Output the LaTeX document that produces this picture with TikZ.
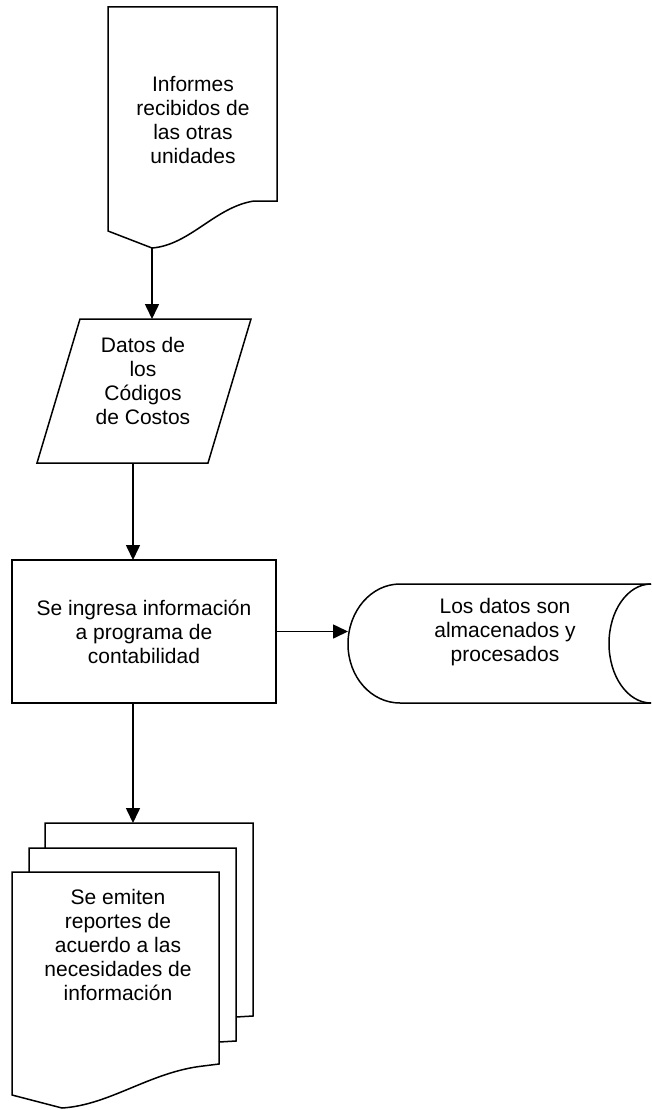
\documentclass[tikz,border=0pt]{standalone}
\usepackage{fontspec}
\setmainfont{Liberation Sans}
\usetikzlibrary{arrows.meta,calc}
\begin{document}
\begin{tikzpicture}[x=1pt,y=-1pt,
  frame/.style={draw=none,rectangle,inner sep=0pt,outer sep=0pt},
  outline/.style={draw=black,line width=1.5pt,line join=miter},
  txt/.style={align=center,font=\fontsize{21}{24}\selectfont,inner sep=0pt},
  arr/.style={draw=black,line width=1.6pt,-{Triangle[length=15pt,width=14pt]}}]
\useasboundingbox (0,0) rectangle (651,1110);

% --- document: Informes recibidos
\node[frame,minimum width=169pt,minimum height=241pt] (doc) at (192.5,127.5) {};
\draw[outline] (doc.north west) -- (doc.north east) -- (277,201) -- (254,201)
  .. controls (215,207) and (190,245) .. (152,248) coordinate (doctip)
  -- (108,231) -- cycle;
\node[txt] (doctext) at (193,120) {Informes\\recibidos de\\las otras\\unidades};

% --- parallelogram: Datos de los Codigos de Costos
\node[frame,minimum width=214pt,minimum height=144pt] (para) at (144,391) {};
\draw[outline] (80,319) -- (251,319) -- (208,463) -- (37,463) -- cycle;
\node[txt] (paratext) at (143,381) {Datos de\\los\\Códigos\\de Costos};

% --- process rectangle
\node[frame,minimum width=264pt,minimum height=143pt] (rect) at (144,631.5) {};
\draw[outline] (rect.north west) rectangle (rect.south east);
\node[txt] (recttext) at (144,632) {Se ingresa información\\a programa de\\contabilidad};

% --- stored data
\node[frame,minimum width=303pt,minimum height=119pt] (store) at (499.5,643.5) {};
\draw[outline] (651,584) -- (400,584)
  .. controls (371.3,584) and (348,610.9) .. (348,644)
  .. controls (348,677.1) and (371.3,703) .. (400,703) -- (651,703);
\draw[outline] (651,584) .. controls (627.8,584) and (609,610.6) .. (609,643.5)
  .. controls (609,676.4) and (627.8,703) .. (651,703);
\node[txt] (storetext) at (505,632) {Los datos son\\almacenados y\\procesados};

% --- multi-document
\node[frame,minimum width=208pt,minimum height=193pt] (multi) at (149,919.5) {};
\draw[outline] (45,848) -- (multi.north west) -- (multi.north east) -- (253,1016) -- (236,1017);
\draw[outline] (29,872) -- (29,848) -- (236,848) -- (236,1041) -- (219,1042);
\node[frame,minimum width=207pt,minimum height=236pt] (front) at (115.5,990) {};
\draw[outline] (12,872) -- (219,872) -- (219,1064) -- (203,1066)
  .. controls (150,1072) and (110,1105) .. (62,1108) -- (12,1095) -- cycle;
\node[txt] (fronttext) at (118,945) {Se emiten\\reportes de\\acuerdo a las\\necesidades de\\información};

% --- connectors
\draw[arr] (doctip) -- (doctip |- para.north);
\draw[arr] ([xshift=-11pt]para.south) -- ([xshift=-11pt]para.south |- rect.north);
\draw[arr] (rect.east) -- (store.west |- rect.east);
\draw[arr] ([xshift=-11pt]rect.south) -- ([xshift=-11pt]rect.south |- multi.north);
\end{tikzpicture}
\end{document}
